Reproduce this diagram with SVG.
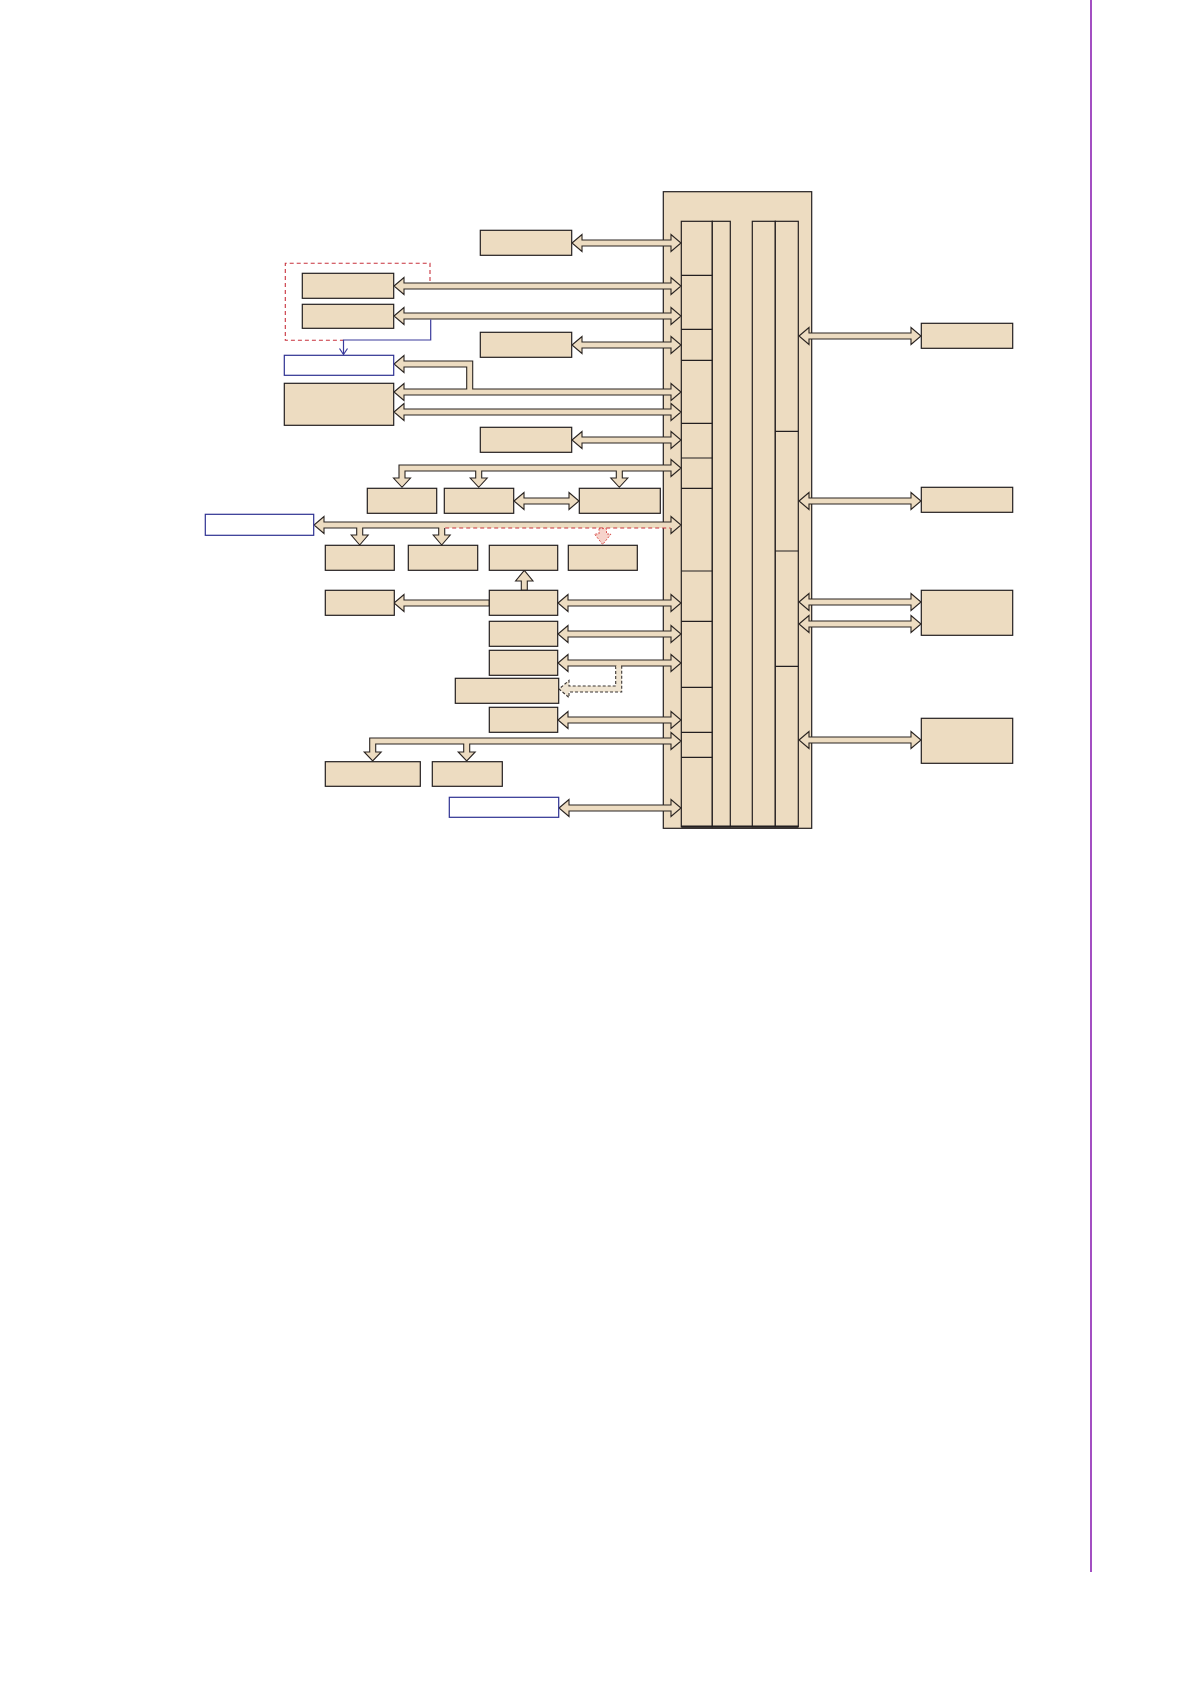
<svg xmlns="http://www.w3.org/2000/svg" width="1191" height="1684" viewBox="0 0 1191 1684">
<defs>
<style>
.box{fill:#EDDCC1;stroke:#231f20;stroke-width:1.2}
.bbox{fill:#ffffff;stroke:#2e3192;stroke-width:1.2}
.col{fill:#EDDCC1;stroke:#231f20;stroke-width:1.2}
.div{stroke:#231f20;stroke-width:1.2;fill:none}
.arr{fill:#EDDCC1;stroke:#2b2522;stroke-width:1.1;stroke-linejoin:miter}
.arrf{fill:#EDDCC1;stroke:none}
.arro{fill:none;stroke:#2b2522;stroke-width:1.1}
.red{fill:none;stroke:#c8323c;stroke-width:1.1;stroke-dasharray:4 3}
.blue{fill:none;stroke:#3a3a9c;stroke-width:1.2}
</style>
</defs>
<rect width="1191" height="1684" fill="#ffffff"/>
<line x1="1091" y1="0" x2="1091" y2="1572" stroke="#a34fc2" stroke-width="2"/>

<g id="soc">
<rect class="col" x="663.3" y="191.7" width="148.4" height="636.6"/>
<rect class="col" x="681.3" y="221.3" width="31" height="605.4"/>
<rect class="col" x="712.3" y="221.3" width="18" height="605.4"/>
<rect class="col" x="752.3" y="221.3" width="23" height="605.4"/>
<rect class="col" x="775.3" y="221.3" width="23" height="605.4"/>
<path class="div" d="M681.3 275.3H712.3M681.3 329.3H712.3M681.3 360.3H712.3M681.3 423.3H712.3M681.3 458H712.3M681.3 488.3H712.3M681.3 571H712.3M681.3 621.3H712.3M681.3 687.3H712.3M681.3 732.3H712.3M681.3 757.3H712.3"/>
<path class="div" d="M775.3 431.3H798.3M775.3 551H798.3M775.3 666.3H798.3"/>
<path d="M681.3 826.7H798.3" stroke="#231f20" stroke-width="2.2"/>
</g>

<g id="connectors">
<path class="red" d="M430 281V263.3H285.3V340.3H343.5"/>
<polygon class="arr" points="572,243 582,234.5 582,240 671,240 671,234.5 681,243 671,251.5 671,246 582,246 582,251.5"/>
<polygon class="arr" points="394,286 404,277.5 404,283 671,283 671,277.5 681,286 671,294.5 671,289 404,289 404,294.5"/>
<polygon class="arr" points="394,316 404,307.5 404,313 671,313 671,307.5 681,316 671,324.5 671,319 404,319 404,324.5"/>
<path class="blue" d="M430.7 319.5V340H343.5V354.5"/>
<path class="blue" d="M339.5 348.5L343.5 354.5L347.5 348.5"/>
<polygon class="arr" points="572,345 582,336.5 582,342 671,342 671,336.5 681,345 671,353.5 671,348 582,348 582,353.5"/>
<polygon class="arr" points="394,392 404,383.5 404,389 466.7,389 466.7,367 404,367 404,372.5 394,364 404,355.5 404,361 472.7,361 472.7,389 671,389 671,383.5 681,392 671,400.5 671,395 404,395 404,400.5"/>
<polygon class="arr" points="394,412 404,403.5 404,409 671,409 671,403.5 681,412 671,420.5 671,415 404,415 404,420.5"/>
<polygon class="arr" points="572,440 582,431.5 582,437 671,437 671,431.5 681,440 671,448.5 671,443 582,443 582,448.5"/>
<polygon class="arr" points="681,468 671,476.5 671,471 622.3,471 622.3,478 627.8,478 619.3,487.3 610.8,478 616.3,478 616.3,471 481.7,471 481.7,478 487.2,478 478.7,487.3 470.2,478 475.7,478 475.7,471 405,471 405,478 410.5,478 402,487.3 393.5,478 399,478 399,465 671,465 671,459.5"/>
<polygon class="arr" points="514,501 524,492.5 524,498 569,498 569,492.5 579,501 569,509.5 569,504 524,504 524,509.5"/>
<polygon class="arrf" points="314,525 324,516.5 324,522 671,522 671,516.5 681,525 671,533.5 671,528 444.7,528 444.7,535 450.2,535 441.7,545 433.2,535 438.7,535 438.7,528 362.7,528 362.7,535 368.2,535 359.7,545 351.2,535 356.7,535 356.7,528 324,528 324,533.5"/>
<path class="arro" d="M671 528L671 533.5L681 525L671 516.5L671 522L324 522L324 516.5L314 525L324 533.5L324 528L356.7 528L356.7 535L351.2 535L359.7 545L368.2 535L362.7 535L362.7 528L438.7 528L438.7 535L433.2 535L441.7 545L450.2 535L444.7 535L444.7 528"/>
<path class="red" d="M445.2 528H670.5"/>
<polygon points="599,528.6 599,534 594.5,534 602.7,544.5 611,534 606.5,534 606.5,528.6" fill="#f6d3cb" stroke="#d9534f" stroke-width="1" stroke-dasharray="2 1.5"/>
<polygon class="arr" points="524.3,570.3 533,581 527.3,581 527.3,590.3 521.3,590.3 521.3,581 515.6,581"/>
<polygon class="arr" points="394,603 404,594.5 404,600 489.3,600 489.3,606 404,606 404,611.5"/>
<polygon class="arr" points="558,603 568,594.5 568,600 671,600 671,594.5 681,603 671,611.5 671,606 568,606 568,611.5"/>
<polygon class="arr" points="558,634 568,625.5 568,631 671,631 671,625.5 681,634 671,642.5 671,637 568,637 568,642.5"/>
<polygon class="arr" points="558,663 568,654.5 568,660 671,660 671,654.5 681,663 671,671.5 671,666 568,666 568,671.5"/>
<path d="M615.7 666V686H569V680.5L559 689L569 697.5V692H621.7V666" fill="#efe4d1" stroke="#3a3533" stroke-width="1.1" stroke-dasharray="3 2"/>
<rect x="616.4" y="664.8" width="4.6" height="2.6" fill="#EDDCC1"/>
<polygon class="arr" points="558,720 568,711.5 568,717 671,717 671,711.5 681,720 671,728.5 671,723 568,723 568,728.5"/>
<polygon class="arr" points="681,741 671,749.5 671,744 469.7,744 469.7,752 475.2,752 466.7,761 458.2,752 463.7,752 463.7,744 375.7,744 375.7,752 381.2,752 372.7,761 364.2,752 369.7,752 369.7,738 671,738 671,732.5"/>
<polygon class="arr" points="559,808 569,799.5 569,805 671,805 671,799.5 681,808 671,816.5 671,811 569,811 569,816.5"/>
<polygon class="arr" points="799,336 809,327.5 809,333 911,333 911,327.5 921,336 911,344.5 911,339 809,339 809,344.5"/>
<polygon class="arr" points="799,501 809,492.5 809,498 911,498 911,492.5 921,501 911,509.5 911,504 809,504 809,509.5"/>
<polygon class="arr" points="799,602 809,593.5 809,599 911,599 911,593.5 921,602 911,610.5 911,605 809,605 809,610.5"/>
<polygon class="arr" points="799,624 809,615.5 809,621 911,621 911,615.5 921,624 911,632.5 911,627 809,627 809,632.5"/>
<polygon class="arr" points="799,740 809,731.5 809,737 911,737 911,731.5 921,740 911,748.5 911,743 809,743 809,748.5"/>
</g>

<g id="nA"><rect class="box" x="480.3" y="230.3" width="91.4" height="25"/></g>
<g id="nB1"><rect class="box" x="302.3" y="273.3" width="91.4" height="25"/></g>
<g id="nB2"><rect class="box" x="302.3" y="304.3" width="91.4" height="24"/></g>
<g id="nC"><rect class="box" x="480.3" y="332.3" width="91.4" height="25"/></g>
<g id="nBlue1"><rect class="bbox" x="284.3" y="355.3" width="109.4" height="20"/></g>
<g id="nD"><rect class="box" x="284.3" y="383.3" width="109.4" height="42"/></g>
<g id="nE"><rect class="box" x="480.3" y="427.3" width="91.4" height="25"/></g>
<g id="nG1"><rect class="box" x="367.3" y="488.3" width="69.4" height="25"/></g>
<g id="nG2"><rect class="box" x="444.3" y="488.3" width="69.4" height="25"/></g>
<g id="nG3"><rect class="box" x="579.3" y="488.3" width="81" height="25"/></g>
<g id="nH"><rect class="bbox" x="205.3" y="514.3" width="108.4" height="21"/></g>
<g id="nJ1"><rect class="box" x="325.3" y="545.3" width="69" height="25"/></g>
<g id="nJ2"><rect class="box" x="408.3" y="545.3" width="69.4" height="25"/></g>
<g id="nJ3"><rect class="box" x="489.3" y="545.3" width="68.4" height="25"/></g>
<g id="nJ4"><rect class="box" x="568.3" y="545.3" width="69" height="25"/></g>
<g id="nK1"><rect class="box" x="325.3" y="590.3" width="69" height="25"/></g>
<g id="nK2"><rect class="box" x="489.3" y="590.3" width="68.4" height="25"/></g>
<g id="nL"><rect class="box" x="489.3" y="621.3" width="68.4" height="25"/></g>
<g id="nM"><rect class="box" x="489.3" y="650.3" width="68.4" height="25"/></g>
<g id="nN"><rect class="box" x="455.3" y="678.3" width="103.4" height="25"/></g>
<g id="nO"><rect class="box" x="489.3" y="707.3" width="68.4" height="25"/></g>
<g id="nQ1"><rect class="box" x="325.3" y="761.7" width="95" height="24.6"/></g>
<g id="nQ2"><rect class="box" x="432.3" y="761.7" width="70" height="24.6"/></g>
<g id="nR"><rect class="bbox" x="449.3" y="797.3" width="109.4" height="20"/></g>
<g id="nS1"><rect class="box" x="921.3" y="323.3" width="91.4" height="25"/></g>
<g id="nS2"><rect class="box" x="921.3" y="487.3" width="91.4" height="25"/></g>
<g id="nS3"><rect class="box" x="921.3" y="590.3" width="91.4" height="45"/></g>
<g id="nS4"><rect class="box" x="921.3" y="718.3" width="91.4" height="45"/></g>
</svg>
